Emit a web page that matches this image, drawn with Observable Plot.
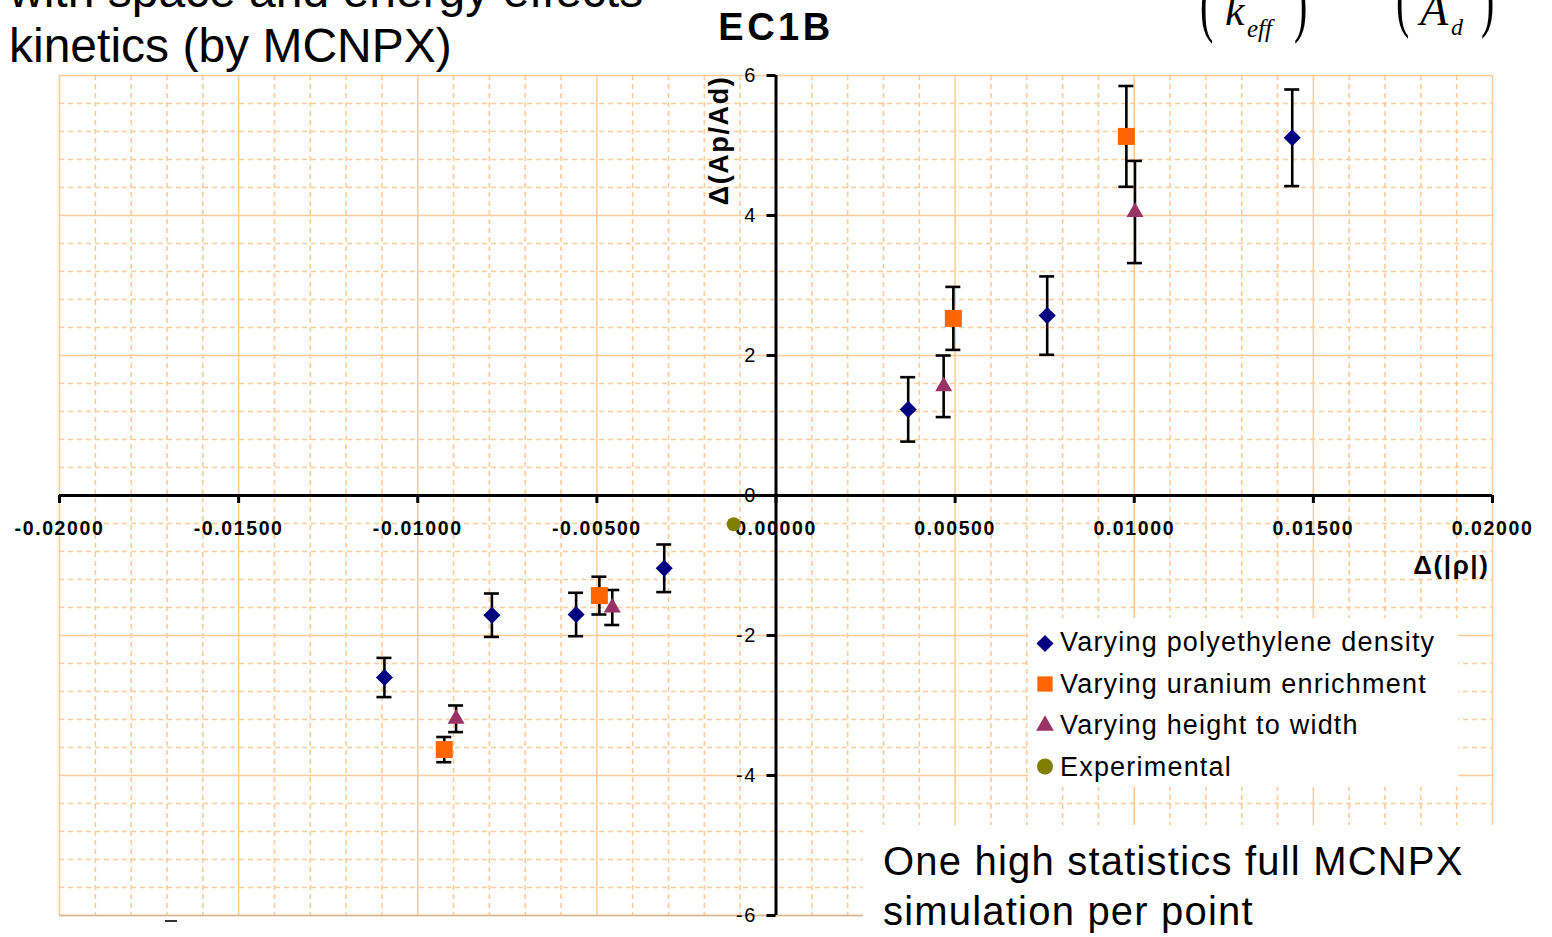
<!DOCTYPE html>
<html><head><meta charset="utf-8">
<script src="https://cdn.jsdelivr.net/npm/d3@7"></script>
<script src="https://cdn.jsdelivr.net/npm/@observablehq/plot@0.6"></script>
<style>
html,body{margin:0;padding:0;background:#fff;}
#wrap{position:relative;width:1552px;height:937px;overflow:hidden;font-family:"Liberation Sans",Arial,sans-serif;}
#chart{position:absolute;left:0;top:0;}
.box{position:absolute;background:#fff;}
#overlay{position:absolute;left:0;top:0;}
#chart svg text{letter-spacing:1.6px;}
</style></head><body>
<div id="wrap">
  <div id="chart"></div>
  <div class="box" style="left:1028px;top:618px;width:430px;height:169px;"></div>
  <div class="box" style="left:863px;top:825px;width:689px;height:112px;"></div>
  <svg id="overlay" width="1552" height="937"></svg>
</div>
<script>
// ---------- data ----------
const seriesNames = ["Varying polyethylene density", "Varying uranium enrichment", "Varying height to width", "Experimental"];
const seriesColors = ["#000080", "#ff6600", "#993366", "#808000"];
const seriesSymbols = ["diamond2", "square", "triangle", "circle"];
const seriesR = [7.7, 9.6, 6.3, 7];

const polyX = [-0.01093, -0.00793, -0.00558, -0.00312, 0.00369, 0.00757, 0.01441];
const polyY = [-2.60, -1.71, -1.70, -1.04, 1.23, 2.57, 5.11];
const polyErr = [0.28, 0.31, 0.31, 0.34, 0.46, 0.56, 0.69];

const uranX = [-0.00926, -0.00493, 0.00495, 0.00978];
const uranY = [-3.63, -1.43, 2.53, 5.13];
const uranErr = [0.18, 0.27, 0.45, 0.72];

const heightX = [-0.00893, -0.00457, 0.00468, 0.01002];
const heightY = [-3.19, -1.60, 1.56, 4.05];
const heightErr = [0.19, 0.25, 0.44, 0.73];

const expX = [-0.00118];
const expY = [-0.41];
const expErr = [0];

const xTicks = [-0.02, -0.015, -0.01, -0.005, 0, 0.005, 0.01, 0.015, 0.02];
const xTickLabels = ["-0.02000", "-0.01500", "-0.01000", "-0.00500", "0.00000", "0.00500", "0.01000", "0.01500", "0.02000"];
const yTicks = [-6, -4, -2, 0, 2, 4, 6];
const yTickLabels = ["-6", "-4", "-2", "0", "2", "4", "6"];
const xTitle = "Δ(|ρ|)";
const yTitle = "Δ(Ap/Ad)";

// ---------- table ----------
const rows = [];
function add(k, xs, ys, es) { xs.forEach((x, i) => rows.push({series: seriesNames[k], k, x, y: ys[i], e: es[i]})); }
add(0, polyX, polyY, polyErr);
add(1, uranX, uranY, uranErr);
add(2, heightX, heightY, heightErr);
add(3, expX, expY, expErr);
const errRows = rows.filter(d => d.e > 0);

const xMinor = d3.range(-20, 21).map(i => i / 1000).filter(v => !xTicks.some(t => Math.abs(t - v) < 1e-9));
const yMinor = d3.range(-15, 16).map(i => i * 2 / 5).filter(v => !yTicks.some(t => Math.abs(t - v) < 1e-9));
const xTickRows = xTicks.map((v, i) => ({v, label: xTickLabels[i]}));
const yTickRows = yTicks.map((v, i) => ({v, label: yTickLabels[i]}));

const gridC = "#ffcc99";
const marks = [
  Plot.ruleX(xMinor, {stroke: gridC, strokeWidth: 1.6, strokeDasharray: "5,4"}),
  Plot.ruleY(yMinor, {stroke: gridC, strokeWidth: 1.6, strokeDasharray: "5,4"}),
  Plot.ruleX(xTicks, {stroke: gridC, strokeWidth: 1.6}),
  Plot.ruleY(yTicks, {stroke: gridC, strokeWidth: 1.6}),
  Plot.ruleY([-6], {stroke: "#d8b896", strokeWidth: 1.6}),
  Plot.ruleY([0], {stroke: "black", strokeWidth: 3}),
  Plot.ruleX([0], {stroke: "black", strokeWidth: 3}),
  Plot.ruleX(xTicks, {x: d => d, y1: 0, y2: 0, insetBottom: -8, stroke: "black", strokeWidth: 3}),
  Plot.ruleY(yTicks, {y: d => d, x1: 0, x2: 0, insetLeft: -9, stroke: "black", strokeWidth: 3}),
  Plot.text(xTickRows, {x: "v", y: 0, text: "label", dy: 33, fontSize: 19.5, fontWeight: "bold", fill: "black"}),
  Plot.text(yTickRows, {x: 0, y: "v", text: "label", dx: -19, textAnchor: "end", fontSize: 20, fill: "black"}),
  Plot.text([yTitle], {x: 0, y: 6, text: d => d, dx: -57, dy: 65, rotate: -90, fontSize: 27, fontWeight: "bold", fill: "black"}),
  Plot.text([xTitle], {x: 0.02, y: 0, text: d => d, dx: -3, dy: 70, textAnchor: "end", fontSize: 26, fontWeight: "bold", fill: "black"}),
  Plot.ruleX(errRows, {x: "x", y1: d => d.y - d.e, y2: d => d.y + d.e, stroke: "black", strokeWidth: 2.6}),
  Plot.ruleY(errRows, {y: d => d.y + d.e, x1: "x", x2: "x", insetLeft: -7.5, insetRight: -7.5, stroke: "black", strokeWidth: 2.6}),
  Plot.ruleY(errRows, {y: d => d.y - d.e, x1: "x", x2: "x", insetLeft: -7.5, insetRight: -7.5, stroke: "black", strokeWidth: 2.6}),
  ...seriesNames.map((s, k) => Plot.dot(rows.filter(d => d.k === k), {
    x: "x", y: "y", symbol: () => seriesSymbols[k], fill: seriesColors[k], r: seriesR[k], stroke: "none"
  }))
];

const chart = Plot.plot({
  width: 1552, height: 937,
  marginLeft: 59, marginRight: 60, marginTop: 75, marginBottom: 22,
  x: {domain: [-0.02, 0.02], axis: null},
  y: {domain: [-6, 6], axis: null},
  symbol: {domain: seriesSymbols, range: seriesSymbols},
  style: {fontFamily: "'Liberation Sans', Arial, sans-serif", background: "white"},
  marks
});
document.getElementById("chart").appendChild(chart);

// ---------- overlay texts & legend ----------
const ov = d3.select("#overlay");
const sans = "'Liberation Sans', Arial, sans-serif";
const serif = "'Liberation Serif', 'Times New Roman', serif";
function t(x, y, s, o = {}) {
  const e = ov.append("text").attr("x", x).attr("y", y).text(s)
    .attr("font-family", o.family || sans).attr("font-size", o.size || 20).attr("fill", "black");
  if (o.weight) e.attr("font-weight", o.weight);
  if (o.style) e.attr("font-style", o.style);
  if (o.anchor) e.attr("text-anchor", o.anchor);
  if (o.ls) e.attr("letter-spacing", o.ls);
  if (o.transform) e.attr("transform", o.transform).attr("x", null).attr("y", null);
  return e;
}
t(9, 7, "with space and energy effects", {size: 48});
t(9, 62, "kinetics (by MCNPX)", {size: 48});
t(776, 40, "EC1B", {size: 38, weight: "bold", anchor: "middle", ls: 3.5});

// formula fragments (top right)
t(0, 0, "(", {family: serif, size: 50, transform: "translate(1200,28) scale(0.8,1.5)"});
t(1225, 25, "k", {family: serif, size: 44, style: "italic"});
t(1247, 37, "eff", {family: serif, size: 25, style: "italic"});
t(0, 0, ")", {family: serif, size: 50, transform: "translate(1294,28) scale(0.8,1.5)"});
t(0, 0, "(", {family: serif, size: 50, transform: "translate(1396,23) scale(0.8,1.5)"});
t(1420, 25, "A", {family: serif, size: 46, style: "italic"});
t(1451, 35, "d", {family: serif, size: 24, style: "italic"});
t(0, 0, ")", {family: serif, size: 50, transform: "translate(1481,23) scale(0.8,1.5)"});

// legend
const symMap = {diamond2: d3.symbolDiamond2, square: d3.symbolSquare, triangle: d3.symbolTriangle, circle: d3.symbolCircle};
const legR = [7.7, 8.6, 6.6, 8];
const legCY = [643.5, 684, 725.5, 766.5];
const legBase = [650.5, 692.5, 734, 776];
seriesNames.forEach((s, k) => {
  ov.append("path")
    .attr("d", d3.symbol(symMap[seriesSymbols[k]], Math.PI * legR[k] * legR[k])())
    .attr("transform", `translate(1045,${legCY[k]})`)
    .attr("fill", seriesColors[k]);
  t(1060, legBase[k], s, {size: 27, ls: 1.2});
});

// note
t(883, 875, "One high statistics full MCNPX", {size: 40, ls: 1.2});
t(883, 925, "simulation per point", {size: 40, ls: 1.2});

// small stray dash at bottom left
ov.append("rect").attr("x", 165).attr("y", 920).attr("width", 12).attr("height", 2).attr("fill", "#333");
</script>
</body></html>
